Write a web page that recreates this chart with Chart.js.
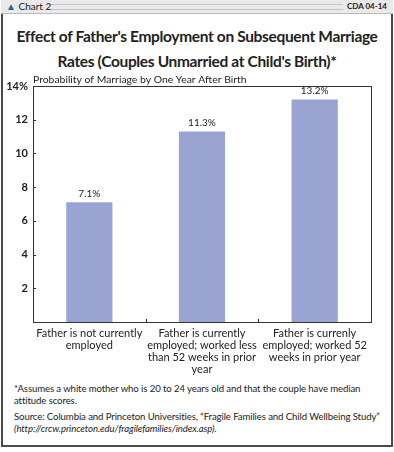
<!DOCTYPE html>
<html>
<head>
<meta charset="utf-8">
<script src="https://cdn.jsdelivr.net/npm/chart.js@4.4.0/dist/chart.umd.min.js"></script>
<style>
  body { margin:0; width:394px; height:452px; background:#fff; font-family:Lato, "Open Sans", sans-serif; position:relative; overflow:hidden; }
  #frame { position:absolute; left:1px; top:0; width:388px; height:445px; border:2px solid #4a4a4a; border-top:none; }
  #head { position:absolute; left:1px; top:0; width:392px; height:13px; background:#e9e9e9; border-bottom:1px solid #bbb; }
  #head .lines { position:absolute; left:46px; right:50px; top:4px; height:4px; border-top:1px solid #c8c8c8; border-bottom:1px solid #c8c8c8; }
  #head .l { position:absolute; left:5px; top:0; font-size:10px; line-height:13px; color:#222; }
  #head .r { position:absolute; right:6px; top:0; font-size:8px; font-weight:bold; line-height:13px; color:#222; }
  #title { position:absolute; left:0; width:394px; top:24px; text-align:center; font-weight:bold; font-size:15.5px; letter-spacing:-0.35px; line-height:25px; color:#222; white-space:nowrap; }
  #chartbox { position:absolute; left:5px; top:68px; width:380px; height:312px; }
  #notes { position:absolute; left:14px; top:383px; width:378px; font-size:9.6px; line-height:12px; color:#222; letter-spacing:-0.1px; }
  #notes p { margin:0 0 4px 0; }
</style>
</head>
<body>
<div id="frame"></div>
<div id="head"><div class="lines"></div><span class="l"><span style="color:#3b5a9a">&#9650;</span> Chart 2</span><span class="r">CDA 04-14</span></div>
<div id="title">Effect of Father's Employment on Subsequent Marriage<br>Rates (Couples Unmarried at Child's Birth)*</div>
<div id="chartbox"><canvas id="marriage_chart"></canvas></div>
<div id="notes">
  <p>*Assumes a white mother who is 20 to 24 years old and that the couple have median<br>attitude scores.</p>
  <p>Source: Columbia and Princeton Universities, &ldquo;Fragile Families and Child Wellbeing Study&rdquo;<br><i>(http://crcw.princeton.edu/fragilefamilies/index.asp)</i>.</p>
</div>
<script>
// data
var categories = [
  ["Father is not currently", "employed"],
  ["Father is currently", "employed; worked less", "than 52 weeks in prior", "year"],
  ["Father is currenly", "employed; worked 52", "weeks in prior year"]
];
var marriageRates = [7.1, 11.3, 13.2];
var yTicks = [2, 4, 6, 8, 10, 12, 14];
var axisTitle = "Probability of Marriage by One Year After Birth";

var ink = "#222";

// box, ticks, labels
var decor = {
  id: 'decor',
  afterDraw: function(chart) {
    var c = chart.ctx, a = chart.chartArea;
    var y = chart.scales.y, x = chart.scales.x;
    c.save();
    c.strokeStyle = "#333";
    c.lineWidth = 1;
    c.strokeRect(a.left + 0.5, a.top + 0.5, a.right - a.left, a.bottom - a.top);
    // y ticks inside
    yTicks.forEach(function(v){
      var py = Math.round(y.getPixelForValue(v)) + 0.5;
      c.beginPath(); c.moveTo(a.left, py); c.lineTo(a.left + 3, py); c.stroke();
    });
    // category separators
    for (var i = 1; i < categories.length; i++) {
      var px = Math.round((x.getPixelForValue(i - 1) + x.getPixelForValue(i)) / 2) + 0.5;
      c.beginPath(); c.moveTo(px, a.bottom); c.lineTo(px, a.bottom - 3); c.stroke();
    }
    // value labels
    c.fillStyle = ink;
    c.font = "10px Lato";
    c.textAlign = "center";
    c.textBaseline = "bottom";
    chart.getDatasetMeta(0).data.forEach(function(bar, i){
      c.fillText(marriageRates[i].toFixed(1) + "%", bar.x, bar.y - 4);
    });
    // axis title
    c.textAlign = "left";
    c.font = "10.4px Lato";
    c.fillText(axisTitle, a.left, a.top - 1);
    c.restore();
  }
};

var ctx = document.getElementById('marriage_chart').getContext('2d');
var myChart = new Chart(ctx, {
  type: 'bar',
  data: {
    labels: categories,
    datasets: [{
      data: marriageRates,
      backgroundColor: "#9aa4d2",
      barPercentage: 0.41,
      categoryPercentage: 1
    }]
  },
  options: {
    responsive: true,
    maintainAspectRatio: false,
    animation: false,
    layout: { padding: { top: 18, right: 14, left: 0, bottom: 0 } },
    plugins: { legend: { display: false }, tooltip: { enabled: false } },
    scales: {
      x: {
        grid: { display: false, drawTicks: false },
        border: { display: false },
        ticks: { color: ink, font: { family: "Lato", size: 11, lineHeight: 1.1 }, padding: 5, maxRotation: 0, autoSkip: false },
        afterFit: function(s) { s.height = 58; }
      },
      y: {
        min: 0, max: 14,
        afterBuildTicks: function(s) { s.ticks = yTicks.map(function(v){ return { value: v }; }); },
        grid: { display: false, drawTicks: false },
        border: { display: false },
        ticks: {
          color: ink, font: { family: "Lato", size: 11, weight: "bold" }, padding: 5,
          callback: function(v) { return v === 14 ? "14%" : v; }
        },
        afterFit: function(s) { s.width = 28; }
      }
    }
  },
  plugins: [decor]
});
</script>
</body>
</html>
